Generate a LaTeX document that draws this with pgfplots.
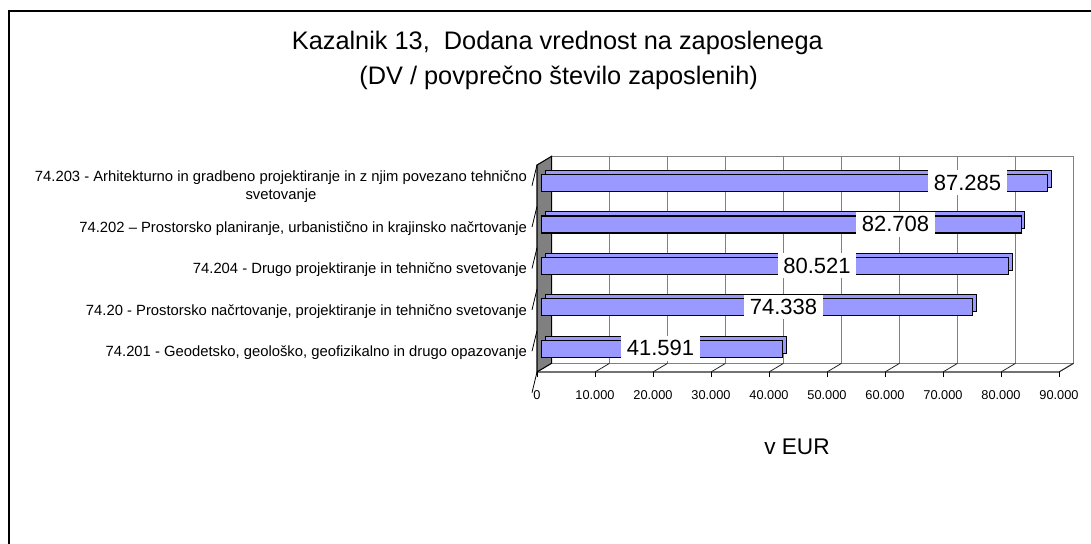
\documentclass[border=0pt]{standalone}
\usepackage{fontspec}
\setmainfont{Liberation Sans}
\usepackage{pgfplots}
\pgfplotsset{compat=1.18}
\usepackage{pgfplotstable}
\definecolor{barcol}{RGB}{153,153,255}
\definecolor{wallgray}{RGB}{128,128,128}

\pgfplotstableread{
pos value labelx lab
1 41591 21290 41.591
2 74338 42500 74.338
3 80521 48280 80.521
4 82708 61810 82.708
5 87285 74220 87.285
}\data

\begin{document}
\begin{tikzpicture}
\draw[line width=1.4pt] (6.75pt,-2pt) -- (6.75pt,399pt) -- (822pt,399pt);
\node[font=\fontsize{19}{22}\selectfont] at (418pt,375pt) {Kazalnik 13,\ \ Dodana vrednost na zaposlenega};
\node[font=\fontsize{19}{22}\selectfont] at (419pt,348.5pt) {(DV / povprečno število zaposlenih)};
\node[font=\fontsize{17}{20}\selectfont] at (597.75pt,72pt) {v EUR};
\begin{axis}[
  set layers,
  at={(402.75pt,128.25pt)}, anchor=south west,
  scale only axis, width=391.5pt, height=155.25pt,
  xmin=0, xmax=90000, ymin=0.5, ymax=5.5,
  clip=false,
  axis line style={draw=none},
  xtick={0,10000,...,90000},
  xtick pos=bottom,
  scaled x ticks=false,
  /pgf/number format/1000 sep={.},
  /pgf/number format/assume math mode=true,
  tick align=outside,
  major tick length=4pt,
  xtick style={black, line width=0.6pt},
  x tick label style={font=\fontsize{9.6}{11}\selectfont, yshift=-6.5pt},
  ytick={1,2,3,4,5},
  ytick pos=left,
  ytick style={draw=none},
  yticklabels={
    {74.201 - Geodetsko, geološko, geofizikalno in drugo opazovanje},
    {74.20 - Prostorsko načrtovanje, projektiranje in tehnično svetovanje},
    {74.204 - Drugo projektiranje in tehnično svetovanje},
    {74.202 – Prostorsko planiranje, urbanistično in krajinsko načrtovanje},
    {74.203 - Arhitekturno in gradbeno projektiranje in z njim povezano tehnično\\svetovanje}},
  y tick label style={font=\fontsize{11.1}{13.5}\selectfont, align=center, yshift=-1pt},
]
\begin{pgfonlayer}{axis background}
  \draw[wallgray, fill=white, line width=0.8pt] ([shift={(10.9pt,6.5pt)}]axis cs:0,0.5) rectangle ([shift={(10.9pt,6.5pt)}]axis cs:90000,5.5);
  \pgfplotsinvokeforeach{10000,20000,30000,40000,50000,60000,70000,80000}{
    \draw[wallgray, line width=0.8pt] ([shift={(10.9pt,6.5pt)}]axis cs:#1,0.5) -- ([shift={(10.9pt,6.5pt)}]axis cs:#1,5.5);
    \draw[black!85, line width=0.6pt] (axis cs:#1,0.5) -- ([shift={(10.9pt,6.5pt)}]axis cs:#1,0.5);
  }
  \draw[black!85, line width=0.8pt] (axis cs:0,0.5) -- (axis cs:90000,0.5) -- ([shift={(10.9pt,6.5pt)}]axis cs:90000,0.5);
  \filldraw[fill=wallgray, draw=black, line width=0.8pt] (axis cs:0,0.5) -- (axis cs:0,5.5) -- ([shift={(10.9pt,6.5pt)}]axis cs:0,5.5) -- ([shift={(10.9pt,6.5pt)}]axis cs:0,0.5) -- cycle;
  \pgfplotsinvokeforeach{0.5,1.5,2.5,3.5,4.5,5.5}{
    \draw[black, line width=0.6pt] (axis cs:0,#1) -- ++(-3.75pt,0);
  }
\end{pgfonlayer}
\addplot[xbar, bar width=12.75pt, bar shift=5pt, xshift=6.1pt, fill=barcol, draw=black, line width=0.8pt] table[x=value, y=pos] {\data};
\addplot[xbar, bar width=12.75pt, bar shift=2pt, xshift=3.3pt, fill=barcol, draw=black, line width=0.9pt] table[x=value, y=pos] {\data};
\addplot[draw=none, mark=none, point meta=explicit symbolic,
  nodes near coords,
  every node near coord/.style={anchor=center, fill=white, inner xsep=4.3pt, inner ysep=3.5pt, yshift=2.2pt, font=\fontsize{16.5}{19}\selectfont}]
  table[x=labelx, y=pos, meta=lab] {\data};
\end{axis}
\pgfresetboundingbox
\path[use as bounding box] (0,0) rectangle (818.25pt,407.25pt);
\end{tikzpicture}
\end{document}
